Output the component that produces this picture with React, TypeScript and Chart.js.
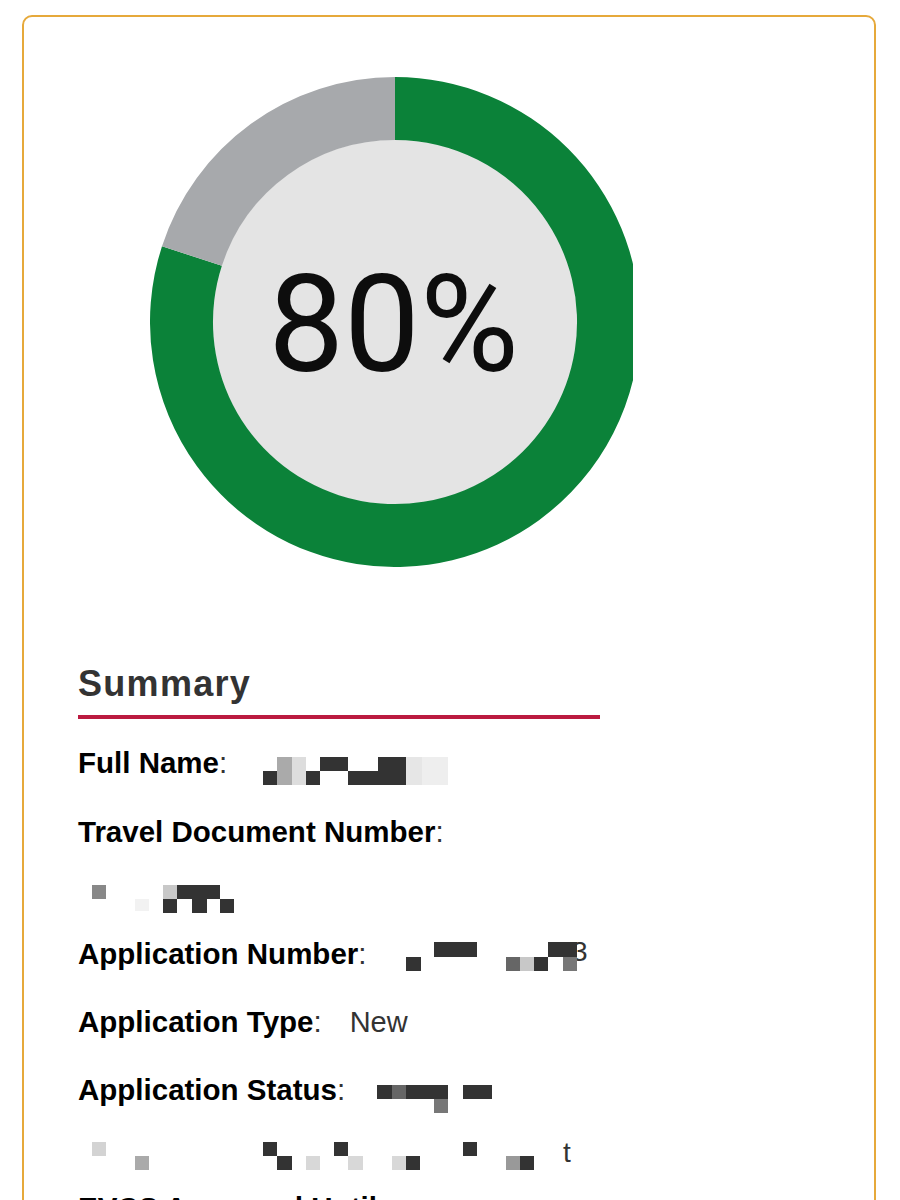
import React, { useEffect, useRef } from "react";
import { Chart, registerables } from "chart.js";

Chart.register(...registerables);

// ---- chart data ----
const SEGMENT_LABELS = ["Complete", "Remaining"];
const SEGMENT_VALUES = [80, 20];
const SEGMENT_COLORS = ["#0b8239", "#a7a9ac"];
const CENTER_FILL = "#e4e4e4";

// ---- summary text ----
const SUMMARY_TITLE = "Summary";
const ROW_LABELS = [
  "Full Name",
  "Travel Document Number",
  "Application Number",
  "Application Type",
  "Application Status",
  "EVCS Approved Until",
];
const ROW_BASELINES = [772, 841, 963, 1031, 1099, 1217];
const ROW_VALUES = ["", "", "", "New", "", ""];

// redaction pixel blocks: [x, y, w, h, shade]
const REDACTIONS: [number, number, number, number, string][] = [
  [263, 771, 14, 14, "#333"], [277, 757, 15, 28, "#aaa"], [292, 757, 14, 28, "#ddd"],
  [306, 771, 14, 14, "#333"], [320, 757, 28, 14, "#333"], [348, 771, 30, 14, "#333"],
  [378, 757, 28, 28, "#333"], [406, 757, 16, 28, "#e6e6e6"], [422, 757, 26, 28, "#eeeeee"],
  [92, 885, 14, 14, "#888"], [135, 899, 14, 12, "#f2f2f2"], [163, 885, 14, 14, "#c8c8c8"],
  [177, 885, 43, 14, "#333"], [163, 899, 14, 14, "#333"], [192, 899, 15, 14, "#333"],
  [220, 899, 14, 14, "#333"],
  [406, 957, 15, 14, "#333"], [434, 942, 43, 15, "#333"], [506, 957, 14, 14, "#666"],
  [520, 957, 14, 14, "#c8c8c8"], [534, 957, 14, 14, "#333"], [548, 942, 29, 15, "#333"],
  [563, 957, 14, 14, "#777"],
  [377, 1085, 15, 14, "#333"], [392, 1085, 14, 14, "#666"], [406, 1085, 42, 14, "#333"],
  [434, 1099, 14, 14, "#777"], [463, 1085, 29, 14, "#333"],
  [92, 1142, 14, 14, "#d3d3d3"], [135, 1156, 14, 14, "#aaa"], [263, 1142, 14, 14, "#333"],
  [277, 1156, 15, 14, "#333"], [306, 1156, 14, 14, "#d8d8d8"], [334, 1142, 14, 14, "#333"],
  [348, 1156, 15, 14, "#d8d8d8"], [392, 1156, 14, 14, "#d8d8d8"], [406, 1156, 14, 14, "#333"],
  [463, 1142, 14, 14, "#333"], [506, 1156, 14, 14, "#999"], [520, 1156, 14, 14, "#333"],
];

const LABEL_FONT = 29.5;

const centerPlugin = {
  id: "centerPlugin",
  beforeDatasetsDraw(chart: any) {
    const arc = chart.getDatasetMeta(0).data[0];
    if (!arc) return;
    const { x, y, innerRadius } = arc.getProps(["x", "y", "innerRadius"], true);
    const ctx = chart.ctx;
    ctx.save();
    ctx.beginPath();
    ctx.arc(x, y, innerRadius + 0.5, 0, Math.PI * 2);
    ctx.fillStyle = CENTER_FILL;
    ctx.fill();
    ctx.restore();
  },
  afterDatasetsDraw(chart: any) {
    const arc = chart.getDatasetMeta(0).data[0];
    if (!arc) return;
    const { x, y } = arc.getProps(["x", "y"], true);
    const ctx = chart.ctx;
    ctx.save();
    ctx.font = "400 135px Roboto";
    ctx.fillStyle = "#0d0d0d";
    ctx.textAlign = "center";
    ctx.textBaseline = "alphabetic";
    ctx.fillText(`${SEGMENT_VALUES[0]}%`, x - 1.5, y + 49);
    ctx.restore();
  },
};

function Doughnut() {
  const ref = useRef<HTMLCanvasElement>(null);
  useEffect(() => {
    if (!ref.current) return;
    const chart = new Chart(ref.current, {
      type: "doughnut",
      data: {
        labels: SEGMENT_LABELS,
        datasets: [
          {
            data: SEGMENT_VALUES,
            backgroundColor: SEGMENT_COLORS,
            borderWidth: 0,
            hoverOffset: 0,
          },
        ],
      },
      options: {
        responsive: true,
        maintainAspectRatio: false,
        animation: false,
        cutout: "74.3%",
        layout: { padding: 0 },
        plugins: { legend: { display: false }, tooltip: { enabled: false } },
        events: [],
      },
      plugins: [centerPlugin],
    });
    return () => chart.destroy();
  }, []);
  return <canvas ref={ref} />;
}

export default function App() {
  return (
    <div
      style={{
        position: "absolute",
        left: 0,
        top: 0,
        width: 900,
        height: 1200,
        overflow: "hidden",
        background: "#fff",
        fontFamily: "'Liberation Sans', Arial, sans-serif",
      }}
    >
      {/* card */}
      <div
        style={{
          position: "absolute",
          left: 22,
          top: 15,
          width: 854,
          height: 1300,
          boxSizing: "border-box",
          border: "2px solid #e6a93b",
          borderRadius: 10,
        }}
      />
      {/* chart (clipped on the right as in the reference) */}
      <div style={{ position: "absolute", left: 0, top: 0, width: 633, height: 620, overflow: "hidden" }}>
        <div style={{ position: "absolute", left: 150, top: 77, width: 490, height: 490 }}>
          <Doughnut />
        </div>
      </div>
      {/* summary heading */}
      <div
        style={{
          position: "absolute",
          left: 78,
          top: 666,
          fontSize: 36,
          lineHeight: "36px",
          fontWeight: 700,
          color: "#333",
          letterSpacing: 1.3,
        }}
      >
        {SUMMARY_TITLE}
      </div>
      <div style={{ position: "absolute", left: 78, top: 715, width: 522, height: 4, background: "#bb1a40" }} />
      {/* rows */}
      {ROW_LABELS.map((label, i) => (
        <div
          key={label}
          style={{
            position: "absolute",
            left: 78,
            top: ROW_BASELINES[i] - 24.5,
            fontSize: LABEL_FONT,
            lineHeight: `${LABEL_FONT}px`,
            whiteSpace: "nowrap",
            color: "#000",
          }}
        >
          <span style={{ fontWeight: 700 }}>{label}</span>
          <span style={{ fontWeight: 400, color: "#333" }}>:</span>
          {ROW_VALUES[i] ? (
            <span style={{ fontWeight: 400, color: "#333", marginLeft: 28, fontSize: 29 }}>{ROW_VALUES[i]}</span>
          ) : null}
        </div>
      ))}
      {/* partial glyphs peeking out of redactions */}
      <div style={{ position: "absolute", left: 572, top: 938, fontSize: 28, lineHeight: "28px", color: "#333" }}>3</div>
      <div style={{ position: "absolute", left: 563, top: 1139, fontSize: 28, lineHeight: "28px", color: "#333" }}>t</div>
      {REDACTIONS.map(([x, y, w, h, c], i) => (
        <div key={i} style={{ position: "absolute", left: x, top: y, width: w, height: h, background: c }} />
      ))}
    </div>
  );
}
